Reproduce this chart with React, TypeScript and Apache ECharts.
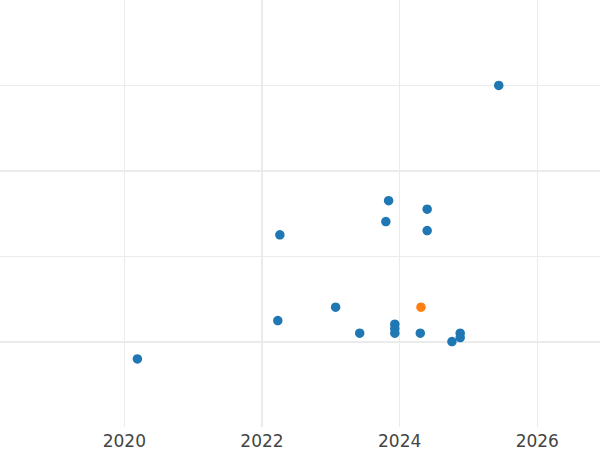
import React, { useEffect, useRef } from "react";
import * as echarts from "echarts";

const blueX = [2025.44, 2023.84, 2024.4, 2023.8, 2024.4, 2022.26, 2023.07, 2022.23, 2023.42, 2023.93, 2023.93, 2023.93, 2024.3, 2024.88, 2024.88, 2024.76, 2020.19];
const blueY = [3.0, 1.65, 1.55, 1.405, 1.3, 1.25, 0.403, 0.246, 0.098, 0.204, 0.152, 0.098, 0.098, 0.098, 0.047, 0.0, -0.203];
const orangeX = [2024.31];
const orangeY = [0.403];
const xTicks = [2020, 2022, 2024, 2026];
const yTicks = [0, 1, 2, 3];
const thickX = [2022];
const thickY = [0, 2];

export default function App() {
  const ref = useRef<HTMLDivElement>(null);
  useEffect(() => {
    if (!ref.current) return;
    const chart = echarts.init(ref.current, undefined, { renderer: "svg" });
    const grid = "#ebebeb";
    chart.setOption({
      animation: false,
      backgroundColor: "#ffffff",
      grid: { left: 0, right: 0, top: 0, bottom: 23, containLabel: false },
      xAxis: {
        type: "value",
        min: 2018.194,
        max: 2026.911,
        axisLine: { show: false },
        axisTick: { show: false, customValues: xTicks },
        splitLine: { show: false },
        axisLabel: {
          customValues: xTicks,
          margin: 5,
          fontSize: 17,
          color: "#444444",
          fontFamily: "DejaVu Sans",
          formatter: (v: number) => String(v),
        },
      },
      yAxis: {
        type: "value",
        min: -1,
        max: 4,
        interval: 1,
        axisLine: { show: false },
        axisTick: { show: false },
        axisLabel: { show: false },
        splitLine: { show: false },
      },
      series: [
        {
          type: "scatter",
          data: [],
          silent: true,
          z: 0,
          markLine: {
            silent: true,
            symbol: "none",
            z: 0,
            label: { show: false },
            lineStyle: { color: grid, width: 1, type: "solid" },
            data: [
              ...xTicks.map((x) => ({
                xAxis: x,
                lineStyle: { color: grid, width: thickX.includes(x) ? 2 : 1, type: "solid" },
              })),
              ...yTicks.map((y) => ({
                yAxis: y,
                lineStyle: { color: grid, width: thickY.includes(y) ? 2 : 1, type: "solid" },
              })),
            ],
          },
        },
        {
          type: "scatter",
          z: 5,
          symbolSize: 9.5,
          itemStyle: { color: "#1f77b4", opacity: 1 },
          data: blueX.map((x, i) => [x, blueY[i]]),
        },
        {
          type: "scatter",
          z: 6,
          symbolSize: 9.5,
          itemStyle: { color: "#ff7f0e", opacity: 1 },
          data: orangeX.map((x, i) => [x, orangeY[i]]),
        },
      ],
    });
    return () => chart.dispose();
  }, []);
  return <div ref={ref} style={{ width: 600, height: 450, position: "fixed", left: 0, top: 0 }} />;
}
